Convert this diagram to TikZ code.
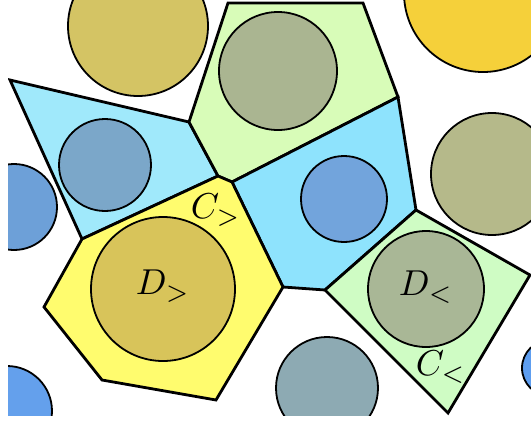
\documentclass[tikz,border=0pt]{standalone}
\usepackage{tikz}
\usetikzlibrary{positioning}
\usepackage{xcolor}

\definecolor{cellblueL}{HTML}{A0E9FB}
\definecolor{cellblueR}{HTML}{8EE3FD}
\definecolor{cellgreenT}{HTML}{D8FCB8}
\definecolor{cellgreenR}{HTML}{CFFCC4}
\definecolor{cellyellow}{HTML}{FFFC6E}

\begin{document}
\begin{tikzpicture}[
    x=1pt, y=-1pt,
    cell/.style={draw=black, line width=2.8pt},
    disk/.style={draw=black, line width=1.8pt},
    lbl/.style={scale=3.6, inner sep=0pt}
]
    \useasboundingbox (0,0) rectangle (531,421);
    \begin{scope}
    \clip (8,0) rectangle (531,415);

    % Cells
    \draw[cell, fill=cellblueL] (10,80) -- (189,122) -- (218,176) -- (82,239) -- cycle;
    \draw[cell, fill=cellgreenT] (228,3) -- (363,3) -- (398,97) -- (232,182) -- (218,176) -- (189,122) -- cycle;
    \draw[cell, fill=cellblueR] (232,182) -- (398,97) -- (416,210) -- (325,290) -- (283,287) -- cycle;
    \draw[cell, fill=cellyellow] (218,176) -- (232,182) -- (283,287) -- (216,400) -- (102,380) -- (44,307) -- (82,239) -- cycle;
    \draw[cell, fill=cellgreenR] (325,290) -- (416,210) -- (530,275) -- (448,413) -- cycle;

    % Disks
    \draw[disk, fill={rgb,255:red,212;green,196;blue,100}] (138,26) circle (70);
    \draw[disk, fill={rgb,255:red,170;green,181;blue,145}] (278,71) circle (59);
    \draw[disk, fill={rgb,255:red,245;green,208;blue,58}] (483,-7) circle (79);
    \draw[disk, fill={rgb,255:red,181;green,185;blue,138}] (492,174) circle (61);
    \draw[disk, fill={rgb,255:red,123;green,167;blue,201}] (105,165) circle (46);
    \draw[disk, fill={rgb,255:red,109;green,160;blue,216}] (14,207) circle (43);
    \draw[disk, fill={rgb,255:red,114;green,164;blue,220}] (344,199) circle (43);
    \draw[disk, fill={rgb,255:red,216;green,196;blue,90}] (163,289) circle (72);
    \draw[disk, fill={rgb,255:red,169;green,183;blue,150}] (426,289) circle (58);
    \draw[disk, fill={rgb,255:red,141;green,170;blue,179}] (327,388) circle (51);
    \draw[disk, fill={rgb,255:red,100;green,160;blue,236}] (7,411) circle (45);
    \draw[disk, fill={rgb,255:red,94;green,158;blue,240}] (550,368) circle (28);
    \end{scope}

    % Labels
    \node[lbl] (cgt) at (216,210) {$C_>$};
    \node[lbl] (dgt) at (163,286) {$D_>$};
    \node[lbl] (dlt) at (426,287) {$D_<$};
    \node[lbl] (clt) at (441,367) {$C_<$};
\end{tikzpicture}
\end{document}
